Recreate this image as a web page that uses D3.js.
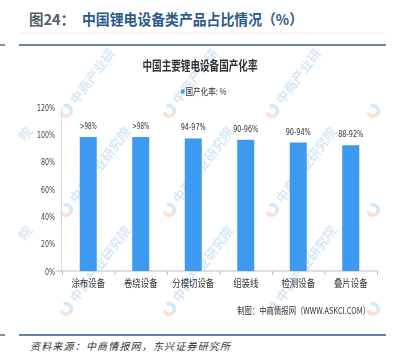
<!DOCTYPE html>
<html><head><meta charset="utf-8">
<script src="https://cdn.jsdelivr.net/npm/d3@7"></script>
<style>
html,body{margin:0;padding:0;background:#fff;}
svg{display:block;}
</style></head>
<body>
<svg id="chart" width="395" height="356"></svg>
<script>
const categories = ["涂布设备","卷绕设备","分模切设备","组装线","检测设备","叠片设备"];
const values = [98, 98, 97, 96, 94, 92];
const valueLabels = [">98%", ">98%", "94-97%", "90-96%", "90-94%", "88-92%"];
const yTicks = [0, 20, 40, 60, 80, 100, 120];
const headerPrefix = "图24：";
const headerTitle = "中国锂电设备类产品占比情况（%）";
const chartTitle = "中国主要锂电设备国产化率";
const legendLabel = "国产化率: %";
const sourceNote = "制图：中商情报网（WWW.ASKCI.COM）";
const footer = "资料来源：中商情报网，东兴证券研究所";
const watermark = "中商产业研究院";

const svg = d3.select("#chart");
const CJK = "'Noto Sans CJK SC','Noto Sans',sans-serif";
const blue = "#3d9af0";

// header
svg.append("line").attr("x1",19).attr("x2",386).attr("y1",33).attr("y2",33)
  .attr("stroke","#eeeeee").attr("stroke-width",1);
svg.append("text").attr("x",29).attr("y",25).attr("font-family",CJK)
  .attr("font-weight","bold").attr("font-size",14.5).attr("fill","#555f6a").text(headerPrefix);
svg.append("text").attr("x",82).attr("y",25).attr("font-family",CJK)
  .attr("font-weight","bold").attr("font-size",14.5).attr("fill","#2b5a8e")
  .attr("textLength",221).attr("lengthAdjust","spacingAndGlyphs").text(headerTitle);
[45, 335].forEach(yy => {
  svg.append("line").attr("x1",19).attr("x2",386).attr("y1",yy).attr("y2",yy)
    .attr("stroke","#2d5b8c").attr("stroke-width",1.3);
  svg.append("line").attr("x1",0).attr("x2",5).attr("y1",yy).attr("y2",yy)
    .attr("stroke","#2d5b8c").attr("stroke-width",1.3);
});

// watermarks (only the parts inside the chart panel)
const wm = svg.append("g").attr("opacity",0.32);
const wmCols = [-32, 66, 169, 272, 373];
const wmRows = [111, 210, 309];
const panel = {x0:19, x1:386, y0:50, y1:326};
const ang = 53 * Math.PI / 180;
const cs = 13, start = 11;
wmRows.forEach(ry => wmCols.forEach(cx => {
  const g = wm.append("g").attr("transform",`translate(${cx},${ry}) rotate(-53)`);
  if (cx > panel.x0 + 4) {
    g.append("path").attr("d", d3.arc()({innerRadius:3.5,outerRadius:7,startAngle:Math.PI*0.15,endAngle:Math.PI*1.0}))
      .attr("fill","#7fb6e6");
    g.append("path").attr("d", d3.arc()({innerRadius:3.5,outerRadius:7,startAngle:Math.PI*1.0,endAngle:Math.PI*1.7}))
      .attr("fill","#f0a070");
  }
  const chars = Array.from(watermark);
  const vis = chars.map((c,k) => {
    const s0 = start + cs*k, s1 = s0 + cs;
    const ok = s => {
      const px = cx + s*Math.cos(ang), py = ry - s*Math.sin(ang);
      return px >= panel.x0 && px <= panel.x1 && py >= panel.y0 && py <= panel.y1;
    };
    return ok(s0) && ok(s1);
  });
  const first = vis.indexOf(true), last = vis.lastIndexOf(true);
  if (first >= 0) {
    g.append("text").attr("x", start + cs*first).attr("y",5).attr("font-family",CJK).attr("font-weight","bold")
      .attr("font-size",13).attr("fill","#7fb6e6").text(chars.slice(first,last+1).join(""));
  }
}));

// chart title + legend
svg.append("text").attr("x",200).attr("y",70).attr("text-anchor","middle")
  .attr("font-family",CJK).attr("font-weight","bold").attr("font-size",13).attr("fill","#333")
  .attr("textLength",115).attr("lengthAdjust","spacingAndGlyphs").text(chartTitle);
svg.append("rect").attr("x",181).attr("y",89.5).attr("width",3.5).attr("height",4).attr("fill",blue);
svg.append("text").attr("x",185.5).attr("y",95).attr("font-family",CJK).attr("font-size",9.5)
  .attr("fill","#333").attr("textLength",41).attr("lengthAdjust","spacingAndGlyphs").text(legendLabel);

// scales
const x = d3.scaleBand().domain(categories).range([62,377]).paddingInner(0.676).paddingOuter(0.338);
const y = d3.scaleLinear().domain([0,120]).range([271,107]);
const xb = d3.scaleLinear().domain([0,categories.length]).range([62,377]);

// y axis
const ya = svg.append("g").attr("transform","translate(61,0)")
  .call(d3.axisLeft(y).tickValues(yTicks).tickSize(0).tickPadding(6).tickFormat(d => d + "%"));
ya.select(".domain").attr("stroke","#d9d9d9");
ya.selectAll("text").attr("font-family","'DejaVu Sans',sans-serif").attr("font-size",9.5)
  .attr("fill","#444").attr("textLength", d => String(d).length*4 + 6).attr("lengthAdjust","spacingAndGlyphs");

// x axis (ticks at category boundaries)
const xa = svg.append("g").attr("transform","translate(0,271)")
  .call(d3.axisBottom(xb).tickValues(d3.range(categories.length+1)).tickSize(4).tickFormat(""));
xa.select(".domain").attr("stroke","#bfbfbf").attr("d","M56,0H377");
xa.selectAll(".tick line").attr("stroke","#bfbfbf");

// category labels
const xl = svg.append("g").attr("transform","translate(0,271)")
  .call(d3.axisBottom(x).tickSize(0).tickPadding(9));
xl.select(".domain").remove();
xl.selectAll("text").attr("font-family",CJK).attr("font-size",10.5).attr("fill","#333")
  .attr("textLength", d => d.length*8.4).attr("lengthAdjust","spacingAndGlyphs");

// bars
svg.append("g").selectAll("rect").data(values).join("rect")
  .attr("x",(d,i)=>x(categories[i])).attr("width",x.bandwidth())
  .attr("y",d=>y(d)).attr("height",d=>y(0)-y(d)).attr("fill",blue);

// value labels
svg.append("g").selectAll("text").data(values).join("text")
  .attr("x",(d,i)=>x(categories[i])+x.bandwidth()/2).attr("y",d=>y(d)-8)
  .attr("text-anchor","middle").attr("font-family","'DejaVu Sans',sans-serif").attr("font-size",9.5)
  .attr("fill","#333")
  .attr("textLength",(d,i)=>valueLabels[i].length*4 + 1).attr("lengthAdjust","spacingAndGlyphs")
  .text((d,i)=>valueLabels[i]);

// source (condensed via scale so the box matches what is drawn)
const src = svg.append("text").attr("text-anchor","end")
  .attr("font-family",CJK).attr("font-size",9.5).attr("fill","#333").text(sourceNote);
const srcW = src.node().getComputedTextLength();
src.attr("transform",`translate(370,314) scale(${133/srcW},1)`);

// footer
svg.append("text").attr("x",30).attr("y",350).attr("font-family",CJK)
  .attr("font-style","italic").attr("font-size",10).attr("fill","#333")
  .attr("textLength",200).attr("lengthAdjust","spacing").text(footer);
</script>
</body></html>
